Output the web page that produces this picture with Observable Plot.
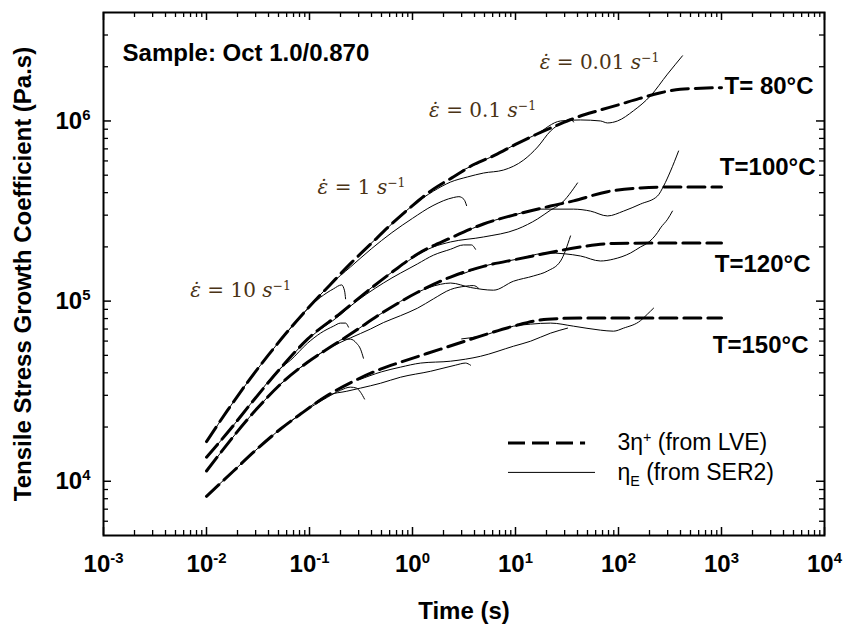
<!DOCTYPE html>
<html>
<head>
<meta charset="utf-8">
<script src="https://cdn.jsdelivr.net/npm/d3@7"></script>
<script src="https://cdn.jsdelivr.net/npm/@observablehq/plot@0.6"></script>
<style>
html,body{margin:0;padding:0;background:#fff;}
#chart{width:844px;height:624px;}
</style>
</head>
<body>
<div id="chart"></div>
<script>
// ---------- data: [time (s), eta (Pa.s)] ----------
// 3eta+ from LVE (dashed)
const lve80 = [[0.01,16600],[0.0158,24500],[0.0251,35500],[0.0398,50100],[0.0631,69200],[0.1,93300],[0.158,123000],[0.251,162000],[0.398,209000],[0.631,269000],[1,339000],[1.58,417000],[2.51,490000],[3.98,575000],[6.31,646000],[10,741000],[15.8,841000],[25.1,944000],[39.8,1050000],[63.1,1140000],[100,1230000],[158,1330000],[251,1430000],[398,1500000],[631,1520000],[1000,1530000]];
const lve100 = [[0.01,13600],[0.0171,19500],[0.0267,26800],[0.0523,42400],[0.0957,61500],[0.2,85800],[0.366,113700],[0.654,146800],[1.12,182500],[2.34,224000],[4.89,268000],[10.4,304000],[21.9,337000],[36.6,360000],[78.2,405000],[164,425000],[342,430000],[1000,430000]];
const lve120 = [[0.01,11400],[0.0313,25500],[0.0523,34600],[0.0957,45800],[0.171,57000],[0.25,65600],[0.522,86900],[1.12,112000],[2.34,136000],[4.89,156000],[10.4,171000],[20.5,185000],[42.8,200000],[89.3,209000],[205,210000],[1000,210000]];
const lve150 = [[0.01,8250],[0.0183,11400],[0.0286,14500],[0.0523,19500],[0.0818,23600],[0.15,30000],[0.267,35900],[0.489,41900],[0.764,45800],[1.87,54100],[4.57,63900],[9.57,72600],[20.5,79400],[42.8,80500],[1000,80500]];

// eta_E from SER2 (solid), one per strain rate 10, 1, 0.1, 0.01 s^-1
const ser80_10 = [[0.0105,17200],[0.0158,24500],[0.0251,35500],[0.0398,50100],[0.0631,69200],[0.102,93800],[0.128,105000],[0.171,117000],[0.205,123000],[0.219,114000],[0.224,103000]];
const ser80_1 = [[0.05,58900],[0.1,93300],[0.158,123000],[0.251,155000],[0.398,195000],[0.631,240000],[1,288000],[1.58,339000],[2.51,376000],[2.82,380000],[3.16,367000],[3.35,339000]];
const ser80_01 = [[0.3,180000],[0.5,237000],[1,339000],[1.6,408000],[2.34,458000],[3.42,489000],[4.89,514000],[7.64,534000],[12,607000],[16.4,717000],[21.9,880000],[29.2,987000],[34.2,1026000],[36.6,987000]];
const ser80_001 = [[3,530000],[6.31,646000],[10,741000],[15.8,841000],[27.4,1000000],[42.8,1013000],[66.8,1000000],[78.2,975000],[97.7,1000000],[140,1140000],[205,1380000],[299,1820000],[418,2300000]];

const ser100_10 = [[0.0105,14000],[0.0171,19500],[0.0267,26800],[0.0523,42400],[0.0655,47000],[0.0957,58400],[0.128,66400],[0.171,72600],[0.2,75500],[0.224,75500],[0.239,71700]];
const ser100_1 = [[0.05,41000],[0.1,62500],[0.2,84000],[0.25,93800],[0.522,126000],[1.12,161000],[1.6,180000],[2.34,194000],[3.13,205000],[3.74,205000],[4.09,194000]];
const ser100_01 = [[0.3,104000],[0.654,146800],[1.6,200000],[2.34,213000],[4.89,227000],[10.4,251000],[16.4,286000],[21.9,320000],[27.4,346000],[40,453000]];
const ser100_001 = [[3,238000],[4.89,268000],[10.4,304000],[17.5,324000],[36.6,324000],[53.5,316000],[78.2,297000],[112,316000],[164,346000],[239,383000],[274,435000],[320,527000],[383,681000]];

const ser120_10 = [[0.0105,11800],[0.0313,25500],[0.0523,34600],[0.0957,45800],[0.171,57000],[0.214,61500],[0.25,61500],[0.286,58400],[0.313,54100],[0.334,48200]];
const ser120_1 = [[0.05,33800],[0.0957,45800],[0.171,56500],[0.25,62500],[0.391,70000],[0.522,76000],[0.764,83000],[1.12,91400],[1.6,103000],[2.34,116000],[3.27,121000],[3.91,122000],[4.37,118000]];
const ser120_01 = [[0.3,70300],[0.522,86900],[1.12,112000],[1.87,124000],[2.34,126000],[3.66,119000],[6.11,115000],[9.57,129000],[15,138000],[20.5,147000],[27.4,167000],[34.2,230000]];
const ser120_001 = [[3,141000],[4.89,156000],[10.4,171000],[20.5,185000],[42.8,178000],[66.8,167000],[89.3,171000],[131,185000],[164,200000],[191,210000],[239,240000],[256,255000],[300,285000],[334,316000]];

const ser150_10 = [[0.0105,8500],[0.0183,11400],[0.0286,14500],[0.0523,19500],[0.0818,23600],[0.15,29300],[0.2,32000],[0.25,33300],[0.286,32900],[0.313,31200],[0.342,28600]];
const ser150_1 = [[0.05,19000],[0.0818,23600],[0.15,30000],[0.23,31600],[0.313,32900],[0.489,35000],[0.764,37800],[1.5,40800],[2.61,44100],[3.27,45300],[3.66,44100]];
const ser150_01 = [[0.3,36500],[0.5,40500],[0.764,43000],[1.2,45300],[2.34,46400],[4.57,49400],[9.57,56200],[14,59900],[21.9,66400],[32,70800]];
const ser150_001 = [[3,61700],[4.57,63900],[9.57,72600],[14,74500],[21.9,75500],[36.6,72600],[66.8,69000],[89.3,68100],[112,70800],[164,78000],[191,84700],[219,91400]];

// ticks
const xTickValues = [1e-3, 1e-2, 1e-1, 1, 10, 100, 1000, 10000];
const xTickLabels = ["10^{-3}","10^{-2}","10^{-1}","10^{0}","10^{1}","10^{2}","10^{3}","10^{4}"];
const yTickValues = [1e4, 1e5, 1e6];
const yTickLabels = ["10^{4}","10^{5}","10^{6}"];
const xMinorTicks = [];
for (let e = -3; e <= 3; e++) for (let m = 2; m <= 9; m++) xMinorTicks.push(m * Math.pow(10, e));
const yMinorTicks = [6000,7000,8000,9000,20000,30000,40000,50000,60000,70000,80000,90000,200000,300000,400000,500000,600000,700000,800000,900000,2000000,3000000];

// annotations
const tempLabels = ["T= 80°C","T=100°C","T=120°C","T=150°C"];
const tempLabelT = [7820, 8180, 7310, 6990];
const tempLabelEta = [1.56e6, 5.55e5, 1.61e5, 5.7e4];
const rateLabels = ["*\u03B5\u0307* = 0.01 *s*^{\u22121}","*\u03B5\u0307* = 0.1 *s*^{\u22121}","*\u03B5\u0307* = 1 *s*^{\u22121}","*\u03B5\u0307* = 10 *s*^{\u22121}"];
const rateLabelT = [65.4, 4.79, 0.32, 0.0214];
const rateLabelEta = [2.10e6, 1.14e6, 4.25e5, 1.14e5];
const sampleLabel = "Sample: Oct 1.0/0.870";
const sampleT = 0.00153, sampleEta = 2.36e6;
const legendLabels = ["3\u03B7^{+} (from LVE)", "\u03B7_{E} (from SER2)"];
const legendEta = [16300, 11200];
const legendStartT = [8.55, 8.55];
const legendEndT = [47.9, 59.8];
const legendTextT = 97.7;
const xTitle = "Time (s)";
const yTitle = "Tensile Stress Growth Coefficient (Pa.s)";

// ---------- build ----------
const lveSeries = [["80", lve80], ["100", lve100], ["120", lve120], ["150", lve150]];
const serSeries = [["80-10", ser80_10],["80-1", ser80_1],["80-0.1", ser80_01],["80-0.01", ser80_001],
  ["100-10", ser100_10],["100-1", ser100_1],["100-0.1", ser100_01],["100-0.01", ser100_001],
  ["120-10", ser120_10],["120-1", ser120_1],["120-0.1", ser120_01],["120-0.01", ser120_001],
  ["150-10", ser150_10],["150-1", ser150_1],["150-0.1", ser150_01],["150-0.01", ser150_001]];
const toRows = list => list.flatMap(([id, pts]) => pts.map(([t, eta]) => ({id, t, eta})));

const W = 844, H = 624, ML = 103, MR = 20, MT = 12, MB = 89;
const FW = W - ML - MR, FH = H - MT - MB;
const DASH = "17,7";

const plot = Plot.plot({
  width: W, height: H,
  marginLeft: ML, marginRight: MR, marginTop: MT, marginBottom: MB,
  x: {type: "log", domain: [1e-3, 1e4], axis: null},
  y: {type: "log", domain: [5000, 4e6], axis: null},
  style: {fontFamily: "'Liberation Sans', Arial, sans-serif", background: "#fff", overflow: "visible"},
  marks: [
    // ticks (inward, all four sides)
    Plot.ruleX(xTickValues, {x: d => d, insetTop: FH - 8, strokeWidth: 1.5}),
    Plot.ruleX(xTickValues, {x: d => d, insetBottom: FH - 8, strokeWidth: 1.5}),
    Plot.ruleX(xMinorTicks, {x: d => d, insetTop: FH - 5, strokeWidth: 1.3}),
    Plot.ruleX(xMinorTicks, {x: d => d, insetBottom: FH - 5, strokeWidth: 1.3}),
    Plot.ruleY(yTickValues, {y: d => d, insetRight: FW - 8, strokeWidth: 1.5}),
    Plot.ruleY(yTickValues, {y: d => d, insetLeft: FW - 8, strokeWidth: 1.5}),
    Plot.ruleY(yMinorTicks, {y: d => d, insetRight: FW - 5, strokeWidth: 1.3}),
    Plot.ruleY(yMinorTicks, {y: d => d, insetLeft: FW - 5, strokeWidth: 1.3}),
    Plot.frame({stroke: "#000", strokeWidth: 2}),
    // tick labels
    Plot.text(xTickValues, {x: d => d, frameAnchor: "bottom", dy: 29, text: (d, i) => xTickLabels[i], fontSize: 24, fontWeight: "bold", lineAnchor: "middle"}),
    Plot.text(yTickValues, {y: d => d, frameAnchor: "left", dx: -13, text: (d, i) => yTickLabels[i], fontSize: 24, fontWeight: "bold", textAnchor: "end", lineAnchor: "middle"}),
    // axis titles
    Plot.text([xTitle], {frameAnchor: "bottom", dy: 76, text: d => d, fontSize: 24, fontWeight: "bold", lineAnchor: "middle"}),
    Plot.text([yTitle], {frameAnchor: "left", dx: -80, rotate: -90, text: d => d, fontSize: 24, fontWeight: "bold", textAnchor: "middle", lineAnchor: "middle"}),
    // curves
    Plot.line(toRows(lveSeries), {x: "t", y: "eta", z: "id", stroke: "#000", strokeWidth: 3, strokeDasharray: DASH, curve: "monotone-x"}),
    Plot.line(toRows(serSeries), {x: "t", y: "eta", z: "id", stroke: "#000", strokeWidth: 1, curve: "monotone-x"}),
    // annotations
    Plot.text([sampleLabel], {x: sampleT, y: sampleEta, text: d => d, fontSize: 24, fontWeight: "bold", textAnchor: "start", lineAnchor: "middle"}),
    Plot.text(tempLabels, {x: (d, i) => tempLabelT[i], y: (d, i) => tempLabelEta[i], text: d => d, fontSize: 24, fontWeight: "bold", textAnchor: "end", lineAnchor: "middle"}),
    Plot.text(rateLabels, {x: (d, i) => rateLabelT[i], y: (d, i) => rateLabelEta[i], text: d => d, fontSize: 20, fontFamily: "'DejaVu Serif', 'Liberation Serif', serif", fill: "#4a3315", lineAnchor: "middle"}),
    // legend
    Plot.ruleY([0], {y: () => legendEta[0], x1: () => legendStartT[0], x2: () => legendEndT[0], stroke: "#000", strokeWidth: 3, strokeDasharray: DASH}),
    Plot.ruleY([1], {y: () => legendEta[1], x1: () => legendStartT[1], x2: () => legendEndT[1], stroke: "#000", strokeWidth: 1}),
    Plot.text(legendLabels, {x: legendTextT, y: (d, i) => legendEta[i], text: d => d, fontSize: 23, textAnchor: "start", lineAnchor: "middle"})
  ]
});
document.getElementById("chart").appendChild(plot);

// rich text: ^{sup}, _{sub}, *italic*
function rich(el) {
  const src = el.textContent;
  if (!/[\^_*]/.test(src)) return;
  const base = parseFloat(getComputedStyle(el).fontSize) || 16;
  while (el.firstChild) el.removeChild(el.firstChild);
  const re = /\^\{([^}]*)\}|_\{([^}]*)\}|\*([^*]*)\*|([^\^_*]+)/g;
  let m, cur = 0;
  while ((m = re.exec(src))) {
    const ts = document.createElementNS("http://www.w3.org/2000/svg", "tspan");
    let off = 0, txt, size = null, italic = false;
    if (m[1] !== undefined) { txt = m[1]; off = -0.38 * base; size = 0.62 * base; }
    else if (m[2] !== undefined) { txt = m[2]; off = 0.25 * base; size = 0.62 * base; }
    else if (m[3] !== undefined) { txt = m[3]; italic = true; }
    else txt = m[4];
    if (off !== cur) ts.setAttribute("dy", (off - cur).toFixed(2));
    cur = off;
    if (size) ts.setAttribute("font-size", size.toFixed(1));
    if (italic) ts.setAttribute("font-style", "italic");
    ts.textContent = txt;
    el.appendChild(ts);
  }
}
plot.querySelectorAll("text").forEach(rich);
</script>
</body>
</html>
